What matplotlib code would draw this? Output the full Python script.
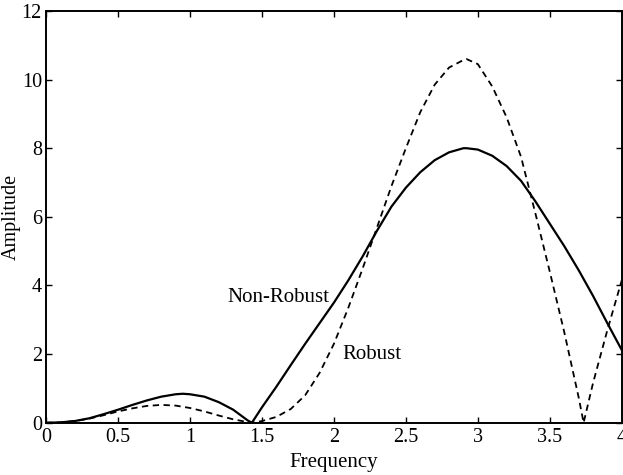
import matplotlib.pyplot as plt
import numpy as np

# values
freq_nr = [0.0, 0.1, 0.2, 0.3, 0.4, 0.5, 0.6, 0.7, 0.8, 0.9, 0.95, 1.0, 1.1, 1.2, 1.3, 1.4, 1.43,
           1.5, 1.6, 1.7, 1.8, 1.9, 2.0, 2.1, 2.2, 2.3, 2.4, 2.5, 2.6, 2.7, 2.8, 2.9, 2.92,
           3.0, 3.1, 3.2, 3.3, 3.4, 3.5, 3.6, 3.7, 3.8, 3.9, 4.0]
amp_nr = [0.0, 0.01, 0.05, 0.13, 0.25, 0.38, 0.52, 0.65, 0.76, 0.83, 0.845, 0.83, 0.76, 0.6, 0.38, 0.07, 0.0,
          0.45, 1.05, 1.68, 2.3, 2.9, 3.5, 4.15, 4.85, 5.6, 6.3, 6.85, 7.3, 7.65, 7.88, 8.0, 8.0,
          7.96, 7.78, 7.48, 7.05, 6.45, 5.8, 5.15, 4.45, 3.7, 2.9, 2.12]

freq_r = [0.0, 0.1, 0.2, 0.3, 0.4, 0.5, 0.6, 0.7, 0.8, 0.9, 1.0, 1.1, 1.2, 1.3, 1.4, 1.43,
          1.5, 1.6, 1.7, 1.8, 1.9, 2.0, 2.1, 2.2, 2.3, 2.4, 2.5, 2.6, 2.7, 2.8, 2.9, 2.92,
          3.0, 3.1, 3.2, 3.3, 3.4, 3.5, 3.6, 3.7, 3.735, 3.8, 3.9, 4.0]
amp_r = [0.0, 0.01, 0.05, 0.12, 0.22, 0.33, 0.42, 0.49, 0.52, 0.5, 0.43, 0.33, 0.21, 0.1, 0.02, 0.0,
         0.05, 0.17, 0.4, 0.8, 1.45, 2.3, 3.35, 4.5, 5.7, 6.9, 8.0, 9.05, 9.85, 10.35, 10.57, 10.6,
         10.45, 9.8, 8.9, 7.75, 6.1, 4.4, 2.65, 0.75, 0.0, 1.15, 2.7, 4.15]

xticks = [0, 0.5, 1, 1.5, 2, 2.5, 3, 3.5, 4]
xticklabels = ['0', '0.5', '1', '1.5', '2', '2.5', '3', '3.5', '4']
yticks = [0, 2, 4, 6, 8, 10, 12]

plt.rcParams['font.family'] = ['Liberation Serif', 'DejaVu Serif']

fig = plt.figure(figsize=(6.23, 4.75), dpi=100)
ax = fig.add_axes([0.074, 0.11, 0.924, 0.867])

ax.plot(freq_nr, amp_nr, color='black', linewidth=1.6, solid_joinstyle='round')
ax.plot(freq_r, amp_r, color='black', linewidth=1.3, linestyle=(0, (3.5, 2.5)))

ax.text(1.97, 3.64, 'Non-Robust', fontsize=15, ha='right', va='center')
ax.text(2.06, 1.98, 'Robust', fontsize=15, ha='left', va='center')

ax.set_xlim(0, 4)
ax.set_ylim(0, 12)
ax.set_xticks(xticks)
ax.set_xticklabels(xticklabels)
ax.set_yticks(yticks)
ax.tick_params(direction='in', length=4, width=1, top=True, right=True, labelsize=14.5)
ax.tick_params(axis='y', pad=3)
ax.tick_params(axis='x', pad=4)
for s in ax.spines.values():
    s.set_linewidth(1.4)

ax.set_xlabel('Frequency', fontsize=15, labelpad=4)
ax.set_ylabel('Amplitude', fontsize=14.5)
ax.yaxis.set_label_coords(-0.044, 0.5)

fig.savefig('out.png', dpi=100)
